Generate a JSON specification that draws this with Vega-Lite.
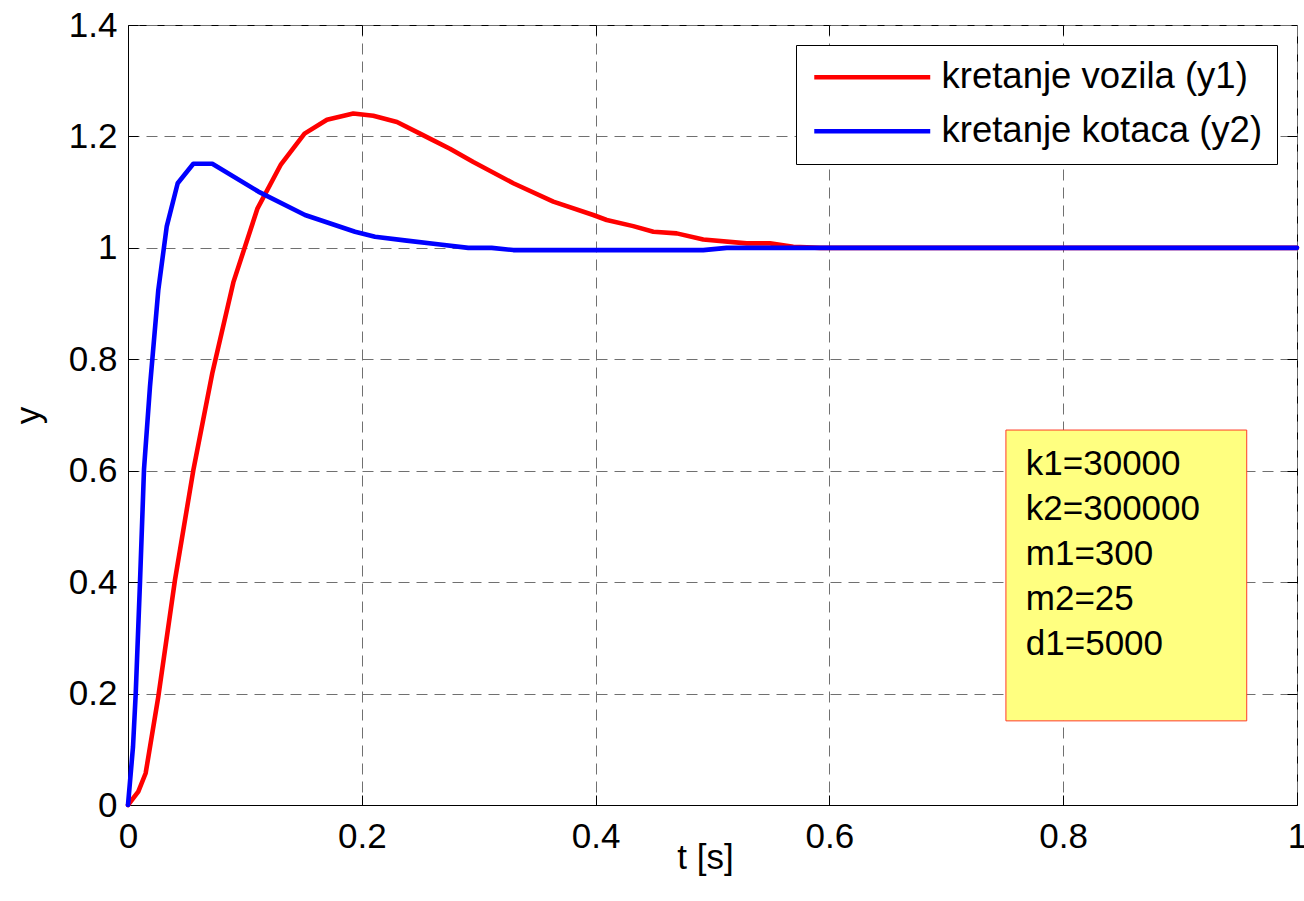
{
  "$schema": "https://vega.github.io/schema/vega-lite/v6.json",
  "width": 1169,
  "height": 780,
  "autosize": {"type": "none"},
  "padding": {"left": 128, "top": 25, "right": 7, "bottom": 96},
  "background": "white",
  "config": {
    "view": {"stroke": "black", "strokeWidth": 1},
    "font": "Liberation Sans",
    "axis": {
      "labelFont": "Liberation Sans",
      "titleFont": "Liberation Sans",
      "labelFontSize": 35,
      "titleFontSize": 35,
      "titleFontWeight": "normal",
      "labelColor": "black",
      "titleColor": "black",
      "tickColor": "black",
      "tickWidth": 1,
      "domainColor": "black",
      "labelOverlap": false,
      "labelFlush": false
    },
    "legend": {
      "labelFont": "Liberation Sans"
    }
  },
  "datasets": {
    "curves": [
      {"t": 0, "y": 0, "series": "kretanje vozila (y1)"},
      {"t": 0.0088, "y": 0.024, "series": "kretanje vozila (y1)"},
      {"t": 0.0151, "y": 0.057, "series": "kretanje vozila (y1)"},
      {"t": 0.0259, "y": 0.194, "series": "kretanje vozila (y1)"},
      {"t": 0.0402, "y": 0.404, "series": "kretanje vozila (y1)"},
      {"t": 0.0559, "y": 0.601, "series": "kretanje vozila (y1)"},
      {"t": 0.0721, "y": 0.775, "series": "kretanje vozila (y1)"},
      {"t": 0.0901, "y": 0.938, "series": "kretanje vozila (y1)"},
      {"t": 0.1108, "y": 1.071, "series": "kretanje vozila (y1)"},
      {"t": 0.1309, "y": 1.150, "series": "kretanje vozila (y1)"},
      {"t": 0.1510, "y": 1.205, "series": "kretanje vozila (y1)"},
      {"t": 0.1702, "y": 1.230, "series": "kretanje vozila (y1)"},
      {"t": 0.1927, "y": 1.241, "series": "kretanje vozila (y1)"},
      {"t": 0.2098, "y": 1.237, "series": "kretanje vozila (y1)"},
      {"t": 0.2301, "y": 1.226, "series": "kretanje vozila (y1)"},
      {"t": 0.2498, "y": 1.205, "series": "kretanje vozila (y1)"},
      {"t": 0.2612, "y": 1.193, "series": "kretanje vozila (y1)"},
      {"t": 0.2754, "y": 1.178, "series": "kretanje vozila (y1)"},
      {"t": 0.2954, "y": 1.154, "series": "kretanje vozila (y1)"},
      {"t": 0.3296, "y": 1.116, "series": "kretanje vozila (y1)"},
      {"t": 0.3638, "y": 1.083, "series": "kretanje vozila (y1)"},
      {"t": 0.3980, "y": 1.059, "series": "kretanje vozila (y1)"},
      {"t": 0.4095, "y": 1.050, "series": "kretanje vozila (y1)"},
      {"t": 0.4322, "y": 1.039, "series": "kretanje vozila (y1)"},
      {"t": 0.4494, "y": 1.029, "series": "kretanje vozila (y1)"},
      {"t": 0.4694, "y": 1.026, "series": "kretanje vozila (y1)"},
      {"t": 0.4921, "y": 1.015, "series": "kretanje vozila (y1)"},
      {"t": 0.5293, "y": 1.008, "series": "kretanje vozila (y1)"},
      {"t": 0.5492, "y": 1.008, "series": "kretanje vozila (y1)"},
      {"t": 0.5691, "y": 1.002, "series": "kretanje vozila (y1)"},
      {"t": 0.592, "y": 1.0, "series": "kretanje vozila (y1)"},
      {"t": 1.0, "y": 1.0, "series": "kretanje vozila (y1)"},
      {"t": 0, "y": 0, "series": "kretanje kotaca (y2)"},
      {"t": 0.0043, "y": 0.105, "series": "kretanje kotaca (y2)"},
      {"t": 0.0066, "y": 0.200, "series": "kretanje kotaca (y2)"},
      {"t": 0.0103, "y": 0.402, "series": "kretanje kotaca (y2)"},
      {"t": 0.0137, "y": 0.603, "series": "kretanje kotaca (y2)"},
      {"t": 0.0188, "y": 0.751, "series": "kretanje kotaca (y2)"},
      {"t": 0.0259, "y": 0.924, "series": "kretanje kotaca (y2)"},
      {"t": 0.0331, "y": 1.038, "series": "kretanje kotaca (y2)"},
      {"t": 0.0425, "y": 1.116, "series": "kretanje kotaca (y2)"},
      {"t": 0.0559, "y": 1.151, "series": "kretanje kotaca (y2)"},
      {"t": 0.0721, "y": 1.151, "series": "kretanje kotaca (y2)"},
      {"t": 0.1115, "y": 1.101, "series": "kretanje kotaca (y2)"},
      {"t": 0.1514, "y": 1.059, "series": "kretanje kotaca (y2)"},
      {"t": 0.1942, "y": 1.029, "series": "kretanje kotaca (y2)"},
      {"t": 0.2113, "y": 1.020, "series": "kretanje kotaca (y2)"},
      {"t": 0.2384, "y": 1.013, "series": "kretanje kotaca (y2)"},
      {"t": 0.2669, "y": 1.006, "series": "kretanje kotaca (y2)"},
      {"t": 0.2911, "y": 1.000, "series": "kretanje kotaca (y2)"},
      {"t": 0.3111, "y": 1.000, "series": "kretanje kotaca (y2)"},
      {"t": 0.3296, "y": 0.996, "series": "kretanje kotaca (y2)"},
      {"t": 0.4921, "y": 0.996, "series": "kretanje kotaca (y2)"},
      {"t": 0.5122, "y": 1.000, "series": "kretanje kotaca (y2)"},
      {"t": 1.0, "y": 1.0, "series": "kretanje kotaca (y2)"}
    ]
  },
  "layer": [
    {
      "data": {"values": [{}]},
      "mark": {"type": "rect", "fill": "#FFFF80", "stroke": "#FF3C28", "strokeWidth": 1},
      "encoding": {
        "x": {"datum": 0.751, "type": "quantitative",
              "scale": {"domain": [0, 1], "nice": false, "zero": false},
              "axis": {"orient": "top", "values": [0.2, 0.4, 0.6, 0.8], "labels": false, "domain": false, "grid": false, "tickSize": -10, "title": null}},
        "x2": {"datum": 0.957},
        "y": {"datum": 0.673, "type": "quantitative",
              "scale": {"domain": [0, 1.4], "nice": false, "zero": false},
              "axis": {"orient": "right", "values": [0.2, 0.4, 0.6, 0.8, 1.0, 1.2], "labels": false, "domain": false, "grid": false, "tickSize": -10, "title": null}},
        "y2": {"datum": 0.151}
      }
    },
    {
      "data": {"values": [{}]},
      "mark": {"type": "text", "align": "left", "baseline": "alphabetic", "fontSize": 35, "lineHeight": 45, "font": "Liberation Sans", "color": "black"},
      "encoding": {
        "x": {"datum": 0.768, "type": "quantitative", "axis": null},
        "y": {"datum": 0.592, "type": "quantitative", "axis": null},
        "text": {"value": ["k1=30000", "k2=300000", "m1=300", "m2=25", "d1=5000"]}
      }
    },
    {
      "data": {"name": "curves"},
      "transform": [{"filter": "datum.series === 'kretanje vozila (y1)'"}],
      "mark": {"type": "line", "strokeWidth": 4.6, "strokeJoin": "round", "strokeCap": "round"},
      "encoding": {
        "x": {"field": "t", "type": "quantitative",
              "axis": {"orient": "bottom", "values": [0, 0.2, 0.4, 0.6, 0.8, 1], "format": "~g", "grid": true, "gridDash": [11, 7], "gridColor": "#707070", "gridWidth": 1, "tickSize": -10, "labelPadding": 24, "title": "t [s]", "titlePadding": -14, "titleX": 577}},
        "y": {"field": "y", "type": "quantitative",
              "axis": {"orient": "left", "values": [0, 0.2, 0.4, 0.6, 0.8, 1, 1.2, 1.4], "format": "~g", "grid": true, "gridDash": [11, 7], "gridColor": "#707070", "gridWidth": 1, "tickSize": -10, "labelPadding": 21, "title": "y", "titlePadding": 22}},
        "color": {"field": "series", "type": "nominal",
                  "scale": {"domain": ["kretanje vozila (y1)", "kretanje kotaca (y2)"], "range": ["#FF0000", "#0000FF"]},
                  "legend": {"orient": "none", "legendX": 668, "legendY": 20, "title": null,
                             "labelFontSize": 36.5, "labelColor": "black", "labelFont": "Liberation Sans", "labelLimit": 0,
                             "symbolType": "M-5,0H5", "symbolSize": 538, "symbolStrokeWidth": 4.6,
                             "symbolOffset": 44, "labelOffset": 51, "rowPadding": 17,
                             "padding": 14, "strokeColor": "black", "fillColor": "white"}}
      }
    },
    {
      "data": {"name": "curves"},
      "transform": [{"filter": "datum.series === 'kretanje kotaca (y2)'"}],
      "mark": {"type": "line", "strokeWidth": 4.6, "strokeJoin": "round", "strokeCap": "round"},
      "encoding": {
        "x": {"field": "t", "type": "quantitative", "axis": null},
        "y": {"field": "y", "type": "quantitative", "axis": null},
        "color": {"field": "series", "type": "nominal"}
      }
    }
  ],
  "resolve": {"axis": {"x": "independent", "y": "independent"}}
}
